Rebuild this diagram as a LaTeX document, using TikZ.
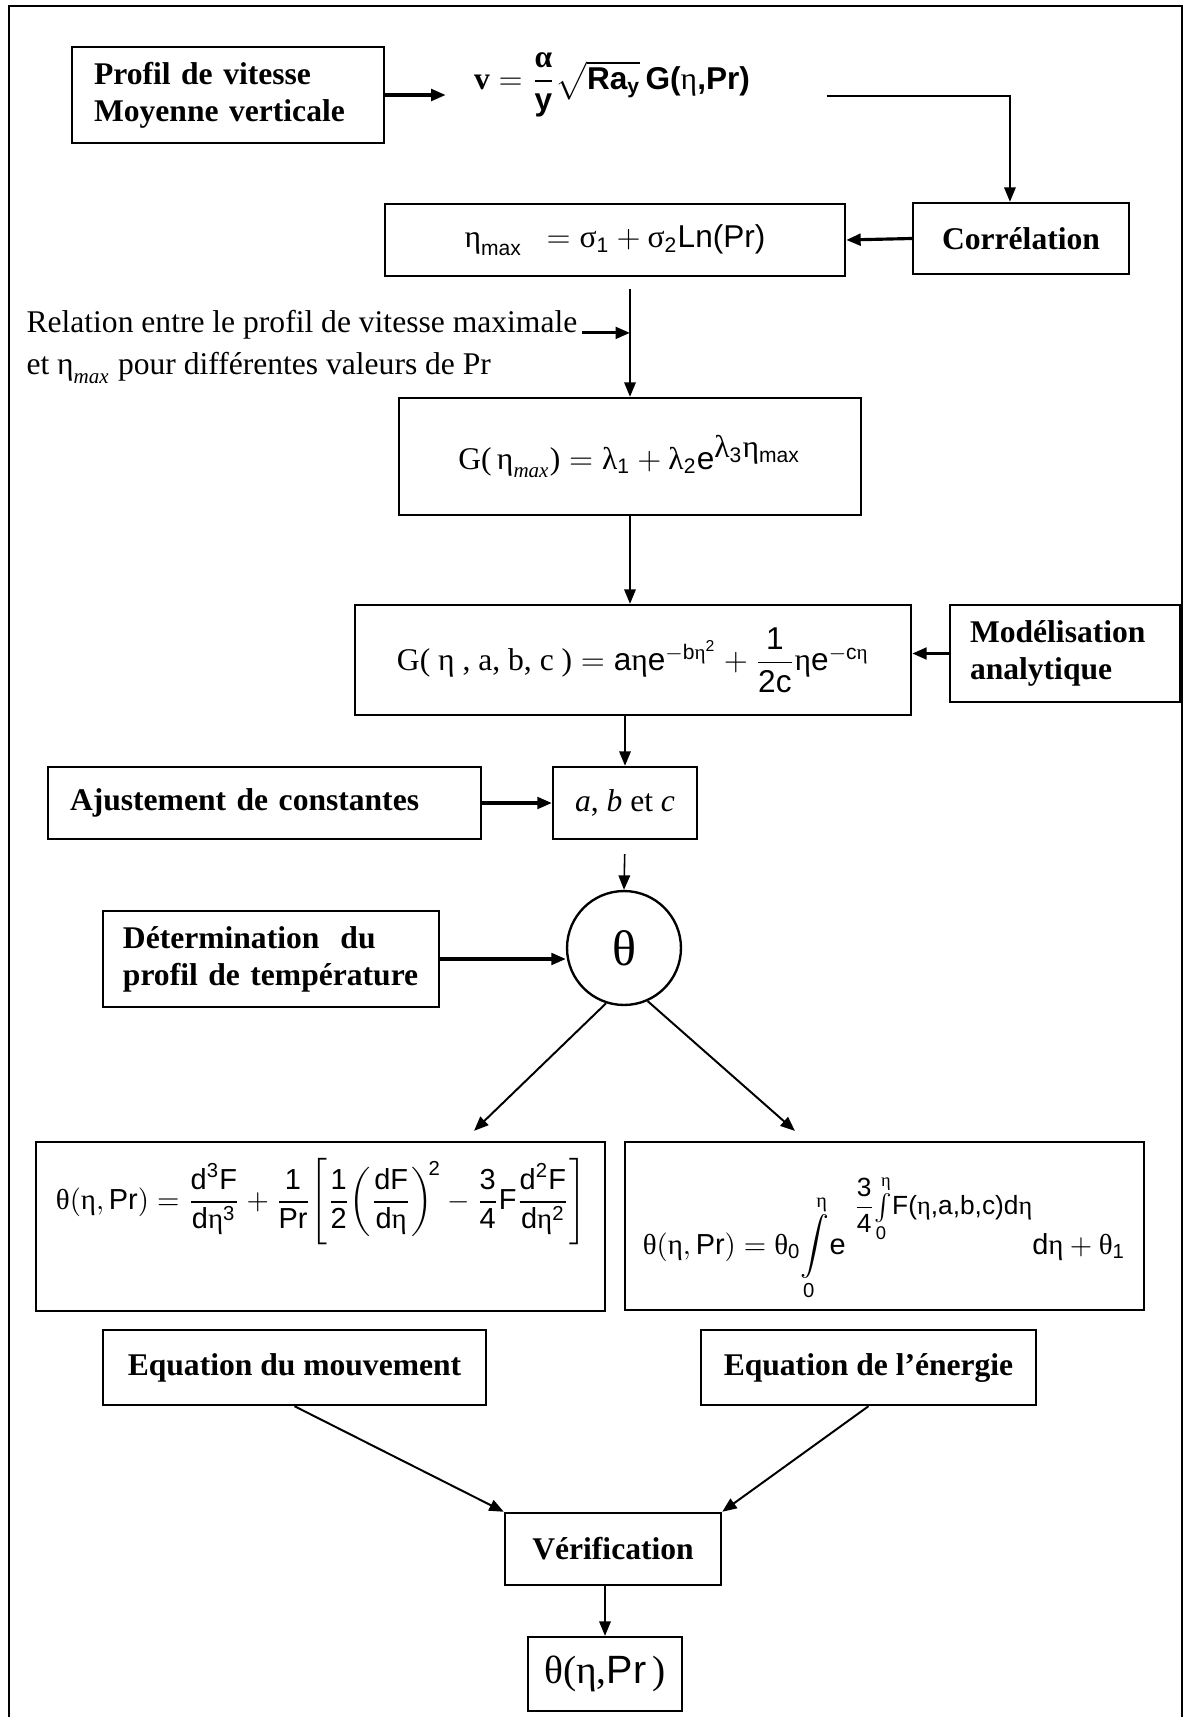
\documentclass[tikz,border=0pt]{standalone}
\usepackage{amsmath}
\usepackage{fontspec}
\setmainfont{Liberation Serif}
\setsansfont{Liberation Sans}
\usepackage{tikz}
\usetikzlibrary{positioning, arrows.meta}
\newcommand{\sa}[1]{\text{\sffamily #1}}
\newcommand{\sab}[1]{\text{\sffamily\bfseries #1}}
\tikzstyle{box} = [
    rectangle, draw, line width=0.9pt, inner sep=0pt,
    font=\fontsize{12}{14}\selectfont
]
\tikzstyle{head} = [box, font=\fontsize{12}{14}\selectfont\bfseries, align=center]
\tikzstyle{eqn} = [inner sep=0pt, font=\fontsize{12}{14}\selectfont]
\tikzstyle{flow} = [-{Triangle[length=5.5pt, width=4.4pt]}, line width=0.6pt]
\tikzstyle{flowb} = [flow, line width=1.2pt]

\begin{document}
\begin{tikzpicture}[x=0.38pt, y=-0.38pt]
    \useasboundingbox (0,0) rectangle (1186,1717);
    % outer frame
    \draw[line width=0.9pt] (9,1717) -- (9,6) -- (1182,6) -- (1182,1717);

    % vitesse moyenne et correlation
    \node[head, align=left, inner xsep=8.4pt, text width=101.8pt, minimum height=36.5pt] (profil) at (228,95) {Profil de vitesse\\Moyenne verticale};
    \node[eqn] (vform) at (612,85) {$\textbf{v} = \dfrac{\text{\bfseries α}}{\sab{y}}\sqrt{\sab{Ra}_{\sab{y}}}\,\sab{G(}\text{η}\sab{,Pr)}$};
    \node[head, minimum width=82.1pt, minimum height=27pt] (corr) at (1021,238.5) {Corrélation};
    \node[box, minimum width=174.8pt, minimum height=27.4pt] (etamax) at (615,240) {$\text{η}_{\sa{max}}\ \ = \text{σ}_{\sa{1}} + \text{σ}_{\sa{2}}\sa{Ln(Pr)}$};

    \draw[flowb, shorten >=10.6pt] (profil.east) -- (profil.east -| vform.west);
    \draw[flow, shorten <=29pt] ([yshift=-4.2pt]vform.east) -| ([xshift=-4.2pt]corr.north);
    \draw[flowb] (corr.west) -- (etamax.east);

    % relation eta_max
    \node[eqn, anchor=west] (rel1) at (26,325) {Relation entre le profil de vitesse maximale};
    \node[eqn, anchor=west] (rel2) at (26,368) {et $\text{η}_{\textit{max}}$ pour différentes valeurs de Pr};
    \node[box, minimum width=175.6pt, minimum height=44.5pt] (gmax) at (630,456.5) {$\text{G(\,η}_{\textit{max}}\text{)} = \text{λ}_{\sa{1}} + \text{λ}_{\sa{2}}\sa{e}^{\mbox{λ$_{\sa{3}}$η$_{\sa{max}}$}}$};
    \draw[flow, shorten <=4.6pt] (etamax.south -| gmax.north) -- (gmax.north);
    \draw[flowb] ([xshift=1.5pt,yshift=-3pt]rel1.east) -- ([yshift=-3pt]rel1.east -| gmax.north);

    % modelisation
    \node[box, minimum width=211.3pt, minimum height=41.8pt] (gfit) at (633,660) {$\text{G( η , a, b, c )} = \sa{a}\text{η}\sa{e}^{-\sa{b}\text{η}^{\sa{2}}} + \dfrac{\sa{1}}{\sa{2c}}\text{η}\sa{e}^{-\sa{c}\text{η}}$};
    \node[head, align=left, inner xsep=7.6pt, text width=72.2pt, minimum height=36.9pt] (model) at (1065,653.5) {Modélisation\\analytique};
    \draw[flow] (gmax.south) -- (gmax.south |- gfit.north);
    \draw[flowb] (model.west) -- (model.west -| gfit.east);

    % constantes a, b, c
    \node[head, align=left, inner xsep=8.4pt, text width=147.8pt, minimum height=27.4pt] (ajust) at (264.5,803) {Ajustement de constantes};
    \node[box, minimum width=54.7pt, minimum height=27.4pt] (abc) at (625,803) {\textit{a}, \textit{b} et \textit{c}};
    \draw[flow] (gfit.south -| abc.north) -- (abc.north);
    \draw[flowb] (ajust.east) -- (abc.west);

    % temperature
    \node[circle, draw, line width=0.9pt, minimum size=43.3pt, inner sep=0pt, font=\fontsize{19}{20}\selectfont] (theta) at (624,948) {θ};
    \node[head, align=left, inner xsep=7.6pt, text width=112.5pt, minimum height=36.5pt] (determ) at (271,959) {Détermination~ du\\profil de température};
    \draw[flow, shorten <=5.3pt] (abc.south) -- (theta.north);
    \draw[flowb] (determ.east) -- (determ.east -| theta.west);

    % equations
    \node[box, minimum width=216.2pt, minimum height=64.2pt] (eqmov) at (320.5,1226.5) {};
    \node[eqn, font=\fontsize{11}{13}\selectfont] (eqmovf) at (321,1202) {$\text{θ}\!\left(\text{η},\sa{Pr}\right) = \dfrac{\sa{d}^{\sa{3}}\sa{F}}{\sa{d}\text{η}^{\sa{3}}} + \dfrac{\sa{1}}{\sa{Pr}}\!\left[\dfrac{\sa{1}}{\sa{2}}\!\left(\dfrac{\sa{dF}}{\sa{d}\text{η}}\right)^{\!\sa{2}} - \dfrac{\sa{3}}{\sa{4}}\sa{F}\dfrac{\sa{d}^{\sa{2}}\sa{F}}{\sa{d}\text{η}^{\sa{2}}}\right]$};
    \node[box, minimum width=197.2pt, minimum height=63.8pt] (eqen) at (884.5,1226) {};
    \node[eqn, anchor=base, font=\fontsize{11}{13}\selectfont] (eqenf) at (884,1254) {$\text{θ}\!\left(\text{η},\sa{Pr}\right) = \text{θ}_{\sa{0}}\!\displaystyle\int\limits_{\sa{0}}^{\text{η}}\!\sa{e}\;\raisebox{15pt}{\fontsize{10}{12}\selectfont$\dfrac{\sa{3}}{\sa{4}}\!\int\limits_{\sa{0}}^{\text{η}}\!\sa{F(}\text{η}\sa{,a,b,c)d}\text{η}$}\sa{d}\text{η} + \text{θ}_{\sa{1}}$};
    \draw[flow, line width=0.75pt] (theta.-108) -- ([xshift=-50.2pt,yshift=3.8pt]eqmov.north east);
    \draw[flow, line width=0.75pt] (theta.-66) -- ([xshift=65pt,yshift=3.8pt]eqen.north west);

    % verification
    \node[head, minimum width=145.5pt, minimum height=28.5pt] (mvt) at (294.5,1367.5) {Equation du mouvement};
    \node[head, minimum width=127.3pt, minimum height=28.5pt] (nrj) at (868.5,1367.5) {Equation de l’énergie};
    \node[head, minimum width=82.1pt, minimum height=27.4pt] (verif) at (613,1549) {Vérification};
    \node[box, minimum width=58.5pt, minimum height=28.1pt, font=\fontsize{15}{18}\selectfont] (final) at (605,1674) {θ(η,{\sffamily Pr}\,)};
    \draw[flow, line width=0.75pt] (mvt.south) -- (verif.north west);
    \draw[flow, line width=0.75pt] (nrj.south) -- (verif.north east);
    \draw[flow] (verif.south -| final.north) -- (final.north);
\end{tikzpicture}
\end{document}
